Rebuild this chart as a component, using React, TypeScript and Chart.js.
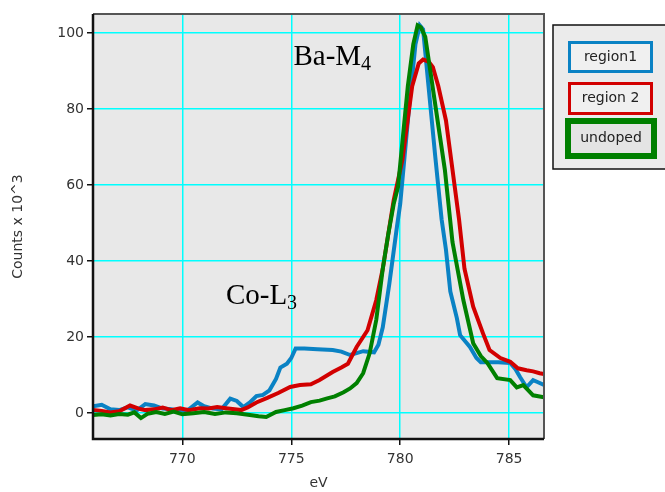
import React, { useEffect, useRef } from "react";
import { Chart, registerables } from "chart.js";

Chart.register(...registerables);

// ---------- data ----------
const region1Ev = [765.9, 766.3, 766.7, 767.1, 767.5, 767.9, 768.3, 768.7, 769.1, 769.5, 769.9, 770.3, 770.7, 771.0, 771.4, 771.8, 772.2, 772.5, 772.8, 773.1, 773.4, 773.7, 774.0, 774.3, 774.5, 774.8, 775.0, 775.2, 775.6, 776.2, 776.9, 777.3, 777.7, 778.0, 778.3, 778.8, 779.0, 779.2, 779.5, 779.85, 780.0, 780.4, 780.7, 780.9, 781.05, 781.3, 781.6, 781.9, 782.1, 782.3, 782.6, 782.75, 783.2, 783.5, 783.7, 784.5, 785.05, 785.3, 785.5, 785.8, 786.1, 786.3, 786.6];
const region1Counts = [1.8, 2.2, 1.0, 0.8, 1.5, 0.7, 2.4, 2.0, 1.2, 1.0, 0.5, 1.0, 2.8, 1.8, 1.2, 1.0, 3.8, 3.2, 1.6, 2.8, 4.5, 4.8, 6.0, 9.0, 12.0, 13.0, 14.5, 17.0, 17.0, 16.8, 16.6, 16.2, 15.3, 15.8, 16.3, 16.0, 18.0, 22.6, 34, 49, 55, 80, 97, 102, 101, 86, 68, 51, 43, 32, 25, 20.5, 17.4, 14.5, 13.4, 13.4, 13.2, 11.5, 9.5, 6.8, 8.7, 8.2, 7.4];

const region2Ev = [765.9, 766.3, 766.7, 767.1, 767.6, 768.0, 768.3, 768.7, 769.1, 769.5, 769.9, 770.3, 770.8, 771.2, 771.6, 772.0, 772.4, 772.7, 773.0, 773.4, 773.9, 774.4, 774.95, 775.4, 775.9, 776.3, 776.9, 777.3, 777.6, 778.0, 778.5, 778.9, 779.2, 779.45, 779.7, 780.1, 780.55, 780.85, 781.05, 781.3, 781.5, 781.75, 782.1, 782.4, 782.7, 782.95, 783.35, 783.8, 784.1, 784.6, 785.05, 785.4, 785.8, 786.1, 786.4, 786.6];
const region2Counts = [0.8, 0.6, 0.2, 0.5, 2.0, 1.2, 0.8, 1.0, 1.5, 0.8, 1.3, 0.8, 1.3, 1.2, 1.6, 1.3, 1.0, 0.8, 1.5, 2.8, 4.0, 5.3, 6.9, 7.4, 7.6, 8.7, 10.8, 12.0, 13.0, 17.4, 21.8, 29.7, 38, 47, 56, 66.6, 86, 92, 93, 92.5, 91, 86, 77, 64, 51, 38, 28, 21, 16.6, 14.5, 13.5, 11.8, 11.3, 11.0, 10.5, 10.3];

const undopedEv = [765.9, 766.3, 766.7, 767.1, 767.5, 767.8, 768.1, 768.4, 768.8, 769.2, 769.6, 770.0, 770.5, 771.0, 771.5, 772.0, 772.5, 773.1, 773.5, 773.85, 774.3, 774.7, 775.1, 775.5, 775.9, 776.3, 776.65, 777.0, 777.4, 777.7, 778.0, 778.3, 778.6, 778.9, 779.2, 779.45, 779.7, 779.9, 780.35, 780.6, 780.8, 780.95, 781.15, 781.6, 782.05, 782.4, 782.9, 783.35, 783.7, 784.0, 784.45, 785.05, 785.35, 785.65, 786.1, 786.6];
const undopedCounts = [-0.5, -0.3, -0.6, -0.2, -0.4, 0.2, -1.3, -0.2, 0.3, -0.2, 0.4, -0.3, 0.0, 0.3, -0.2, 0.2, 0.0, -0.5, -0.8, -1.0, 0.3, 0.8, 1.3, 2.0, 2.9, 3.3, 3.9, 4.4, 5.5, 6.5, 7.9, 10.5, 15.8, 24.5, 38, 47, 55, 59.5, 86, 97, 102, 101.5, 99, 81.5, 64, 45, 29.7, 18.4, 15, 13.2, 9.2, 8.7, 6.8, 7.4, 4.7, 4.2];

const seriesLabels = ["region1", "region 2", "undoped"];
const xTicks = [770, 775, 780, 785];
const yTicks = [0, 20, 40, 60, 80, 100];
const xTitle = "eV";
const yTitle = "Counts x 10^3";
const peakLabel = { main: "Ba-M", sub: "4", x: 775.1, y: 91.6 };
const shoulderLabel = { main: "Co-L", sub: "3", x: 772.0, y: 28.7 };

const BLUE = "#0a82c4";
const RED = "#d20000";
const GREEN = "#008000";

const toPoints = (xs: number[], ys: number[]) => xs.map((x, i) => ({ x, y: ys[i] }));

const decor = {
  id: "decor",
  beforeDraw(chart: any) {
    const { ctx, chartArea: a } = chart;
    ctx.save();
    ctx.fillStyle = "#ffffff";
    ctx.fillRect(0, 0, chart.width, chart.height);
    ctx.fillStyle = "#e8e8e8";
    ctx.fillRect(a.left, a.top, a.right - a.left, a.bottom - a.top);
    ctx.restore();
  },
  afterDraw(chart: any) {
    const { ctx, chartArea: a } = chart;
    const xs = chart.scales.x;
    const ys = chart.scales.y;
    ctx.save();
    // frame
    ctx.lineWidth = 2;
    ctx.strokeStyle = "#555555";
    ctx.beginPath();
    ctx.moveTo(a.left, a.top);
    ctx.lineTo(a.right, a.top);
    ctx.lineTo(a.right, a.bottom);
    ctx.stroke();
    ctx.lineWidth = 2.5;
    ctx.strokeStyle = "#111111";
    ctx.beginPath();
    ctx.moveTo(a.left, a.top);
    ctx.lineTo(a.left, a.bottom);
    ctx.lineTo(a.right, a.bottom);
    ctx.stroke();

    // axis titles
    ctx.fillStyle = "#333333";
    ctx.font = '14px "DejaVu Sans", sans-serif';
    ctx.textAlign = "center";
    ctx.textBaseline = "middle";
    ctx.fillText(xTitle, (a.left + a.right) / 2, 483);
    ctx.save();
    ctx.translate(18, (a.top + a.bottom) / 2);
    ctx.rotate(-Math.PI / 2);
    ctx.fillText(yTitle, 0, 0);
    ctx.restore();

    // annotations
    const drawSub = (lab: any) => {
      const px = xs.getPixelForValue(lab.x);
      const py = ys.getPixelForValue(lab.y);
      ctx.fillStyle = "#000000";
      ctx.textAlign = "left";
      ctx.textBaseline = "alphabetic";
      ctx.font = '29px "Liberation Serif", serif';
      ctx.fillText(lab.main, px, py);
      const w = ctx.measureText(lab.main).width;
      ctx.font = '20px "Liberation Serif", serif';
      ctx.fillText(lab.sub, px + w, py + 5);
    };
    drawSub(peakLabel);
    drawSub(shoulderLabel);

    // legend
    ctx.fillStyle = "#ebebeb";
    ctx.fillRect(553, 25, 120, 144);
    ctx.lineWidth = 1.5;
    ctx.strokeStyle = "#111111";
    ctx.strokeRect(553, 25, 120, 144);
    const items = [
      { label: seriesLabels[0], color: BLUE, lw: 3, x: 568, y: 41, w: 85, h: 32, bg: "#f0f0f0" },
      { label: seriesLabels[1], color: RED, lw: 3, x: 568, y: 82, w: 85, h: 33, bg: "#f0f0f0" },
      { label: seriesLabels[2], color: GREEN, lw: 6, x: 565, y: 118, w: 92, h: 41, bg: "#e4e4e4" },
    ];
    for (const it of items) {
      ctx.fillStyle = it.bg;
      ctx.fillRect(it.x, it.y, it.w, it.h);
      ctx.lineWidth = it.lw;
      ctx.strokeStyle = it.color;
      ctx.strokeRect(it.x + it.lw / 2, it.y + it.lw / 2, it.w - it.lw, it.h - it.lw);
      ctx.fillStyle = "#222222";
      ctx.font = '14px "DejaVu Sans", sans-serif';
      ctx.textAlign = "center";
      ctx.textBaseline = "middle";
      ctx.fillText(it.label, it.x + it.w / 2, it.y + it.h / 2);
    }
    ctx.restore();
  },
};

export default function App() {
  const canvasRef = useRef<HTMLCanvasElement | null>(null);
  useEffect(() => {
    const canvas = canvasRef.current;
    if (!canvas) return;
    const tickFont = { family: '"DejaVu Sans", sans-serif', size: 14 };
    const chart = new Chart(canvas, {
      type: "line",
      data: {
        datasets: [
          { label: seriesLabels[0], data: toPoints(region1Ev, region1Counts), borderColor: BLUE, backgroundColor: BLUE, borderWidth: 4, pointRadius: 0, tension: 0, order: 3 },
          { label: seriesLabels[1], data: toPoints(region2Ev, region2Counts), borderColor: RED, backgroundColor: RED, borderWidth: 4, pointRadius: 0, tension: 0, order: 2 },
          { label: seriesLabels[2], data: toPoints(undopedEv, undopedCounts), borderColor: GREEN, backgroundColor: GREEN, borderWidth: 4, pointRadius: 0, tension: 0, order: 1 },
        ],
      },
      options: {
        responsive: false,
        animation: false,
        devicePixelRatio: 1,
        layout: { padding: { top: 14, right: 121, left: 0, bottom: 0 } },
        plugins: { legend: { display: false }, tooltip: { enabled: false } },
        scales: {
          x: {
            type: "linear",
            min: 765.9,
            max: 786.6,
            afterBuildTicks: (s: any) => { s.ticks = xTicks.map((v) => ({ value: v })); },
            afterFit: (s: any) => { s.height = 53; },
            grid: { color: "#00ffff", lineWidth: 1.5, tickColor: "#111111", tickLength: 6 },
            border: { display: false },
            ticks: { color: "#333333", font: tickFont, padding: 6, maxRotation: 0 },
          },
          y: {
            type: "linear",
            min: -6.8,
            max: 105,
            afterBuildTicks: (s: any) => { s.ticks = yTicks.map((v) => ({ value: v })); },
            afterFit: (s: any) => { s.width = 93; },
            grid: { color: "#00ffff", lineWidth: 1.5, tickColor: "#111111", tickLength: 6 },
            border: { display: false },
            ticks: { color: "#333333", font: tickFont, padding: 3 },
          },
        },
      },
      plugins: [decor],
    } as any);
    return () => chart.destroy();
  }, []);
  return (
    <div style={{ position: "absolute", left: 0, top: 0, width: 665, height: 492, background: "#ffffff" }}>
      <canvas ref={canvasRef} width={665} height={492} style={{ display: "block", width: 665, height: 492 }} />
    </div>
  );
}
